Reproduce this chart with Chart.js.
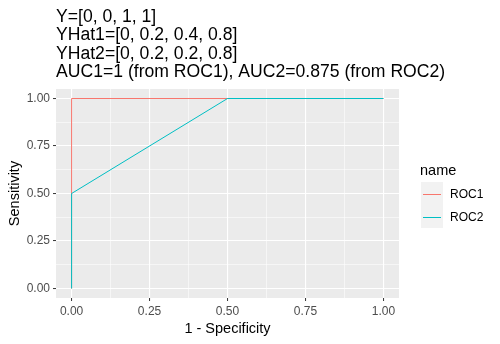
<!DOCTYPE html>
<html>
<head>
<meta charset="utf-8">
<script src="https://cdn.jsdelivr.net/npm/chart.js@4.4.1/dist/chart.umd.min.js"></script>
<style>
  body { margin: 0; background: #fff; }
  #wrap { width: 500px; height: 344px; }
</style>
</head>
<body>
<div id="wrap"><canvas id="roc" width="500" height="344"></canvas></div>
<script>
// dados das curvas ROC
const titulo = [
  'Y=[0, 0, 1, 1]',
  'YHat1=[0, 0.2, 0.4, 0.8]',
  'YHat2=[0, 0.2, 0.2, 0.8]',
  'AUC1=1 (from ROC1), AUC2=0.875 (from ROC2)'
];
const nomes = ['ROC1', 'ROC2'];
const cores = ['#F8766D', '#00BFC4'];
const fpr1 = [0, 0, 1];
const tpr1 = [0, 1, 1];
const fpr2 = [0, 0, 0.5, 1];
const tpr2 = [0, 0.5, 1, 1];
const ticksMaiores = [0, 0.25, 0.5, 0.75, 1];
const ticksTodos = [0, 0.125, 0.25, 0.375, 0.5, 0.625, 0.75, 0.875, 1];

const fonte = "'Liberation Sans', Arial, sans-serif";

function pontos(xs, ys) {
  return xs.map((x, i) => ({ x: x, y: ys[i] }));
}

function ehMaior(v) {
  return ticksMaiores.some(t => Math.abs(t - v) < 1e-9);
}

function eixo(titulo, ehY) {
  return {
    type: 'linear',
    min: -0.05,
    max: 1.05,
    afterBuildTicks: s => { s.ticks = ticksTodos.map(v => ({ value: v })); },
    afterFit: s => {
      if (ehY) s.width = 56; else s.height = 46;
    },
    border: { display: false },
    grid: {
      color: '#FFFFFF',
      lineWidth: ctx => ehMaior(ctx.tick.value) ? 1.1 : 0.55,
      tickLength: 3,
      tickColor: ctx => ehMaior(ctx.tick.value) ? '#333333' : 'rgba(0,0,0,0)',
      tickWidth: 1
    },
    ticks: {
      autoSkip: false,
      maxRotation: 0,
      padding: 3,
      color: '#4D4D4D',
      font: { family: fonte, size: 12 },
      callback: v => ehMaior(v) ? v.toFixed(2) : ''
    },
    title: {
      display: true,
      text: titulo,
      color: '#000000',
      font: { family: fonte, size: 14.5 },
      padding: { top: 6, bottom: 6 }
    }
  };
}

// fundo cinza do painel, titulo e legenda
const pluginExtras = {
  id: 'extras',
  beforeDraw(chart) {
    const a = chart.chartArea;
    const c = chart.ctx;
    c.save();
    c.fillStyle = '#EBEBEB';
    c.fillRect(a.left, a.top, a.right - a.left, a.bottom - a.top);
    c.restore();
  },
  afterDraw(chart) {
    const c = chart.ctx;
    c.save();
    c.fillStyle = '#000000';
    c.textBaseline = 'alphabetic';
    c.font = '17.6px ' + fonte;
    titulo.forEach((linha, i) => c.fillText(linha, 56, 21.5 + i * 18.6));

    c.font = '14.5px ' + fonte;
    c.fillText('name', 420, 175);
    c.fillStyle = '#F2F2F2';
    c.fillRect(421, 182, 22, 46);
    c.font = '12px ' + fonte;
    nomes.forEach((n, i) => {
      const y = 194.5 + i * 23;
      c.strokeStyle = cores[i];
      c.lineWidth = 1;
      c.beginPath();
      c.moveTo(423, y);
      c.lineTo(441, y);
      c.stroke();
      c.fillStyle = '#000000';
      c.textBaseline = 'middle';
      c.fillText(n, 450, y);
    });
    c.restore();
  }
};

new Chart(document.getElementById('roc'), {
  type: 'scatter',
  data: {
    datasets: [
      {
        label: nomes[0],
        data: pontos(fpr1, tpr1),
        borderColor: cores[0],
        showLine: true,
        pointRadius: 0,
        borderWidth: 1,
        order: 1
      },
      {
        label: nomes[1],
        data: pontos(fpr2, tpr2),
        borderColor: cores[1],
        showLine: true,
        pointRadius: 0,
        borderWidth: 1,
        order: 0
      }
    ]
  },
  options: {
    responsive: false,
    animation: false,
    layout: { padding: { left: 0, top: 89, right: 101, bottom: 0 } },
    plugins: {
      legend: { display: false },
      tooltip: { enabled: false }
    },
    scales: {
      x: eixo('1 - Specificity', false),
      y: eixo('Sensitivity', true)
    }
  },
  plugins: [pluginExtras]
});
</script>
</body>
</html>
